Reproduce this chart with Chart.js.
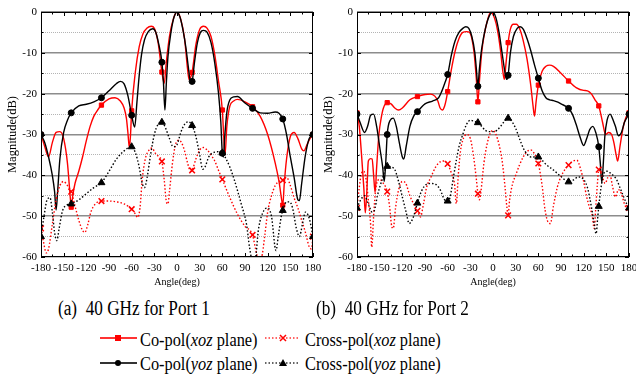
<!DOCTYPE html>
<html>
<head>
<meta charset="utf-8">
<script src="https://cdn.jsdelivr.net/npm/chart.js@4.4.1/dist/chart.umd.min.js"></script>
<style>
  html, body { margin: 0; padding: 0; background: #fff; width: 636px; height: 379px; overflow: hidden; position: relative; }
  canvas.plot { position: absolute; top: 0; }
  #port1 { left: 0; }
  #port2 { left: 316px; }
  .cap, .lg { position: absolute; font-family: "Liberation Serif", "Times New Roman", serif; color: #000;
              white-space: nowrap; transform-origin: 0 0; transform: scaleX(0.86); }
  .cap { font-size: 20px; line-height: 20px; top: 298px; }
  .lg { font-size: 19px; line-height: 19px; }
  #key { position: absolute; left: 0; top: 320px; }
</style>
</head>
<body>
<canvas id="port1" class="plot" width="330" height="297"></canvas>
<canvas id="port2" class="plot" width="330" height="297"></canvas>

<div class="cap" style="left:58px">(a)&nbsp; 40 GHz for Port 1</div>
<div class="cap" style="left:316px">(b)&nbsp; 40 GHz for Port 2</div>

<svg id="key" width="636" height="59">
  <line x1="100" y1="18" x2="137" y2="18" stroke="#f33" stroke-width="2"/>
  <rect x="115" y="15" width="6" height="6" fill="#f00"/>
  <line x1="265" y1="18" x2="300" y2="18" stroke="#f33" stroke-width="1.5" stroke-dasharray="1.5 2"/>
  <path d="M280 15 L286 21 M286 15 L280 21" stroke="#f00" stroke-width="1.5"/>
  <line x1="100" y1="43" x2="137" y2="43" stroke="#333" stroke-width="2"/>
  <circle cx="118" cy="43" r="3" fill="#000"/>
  <line x1="265" y1="43" x2="300" y2="43" stroke="#333" stroke-width="1.5" stroke-dasharray="1.5 2"/>
  <path d="M283 39 L287 46 L279 46 Z" fill="#000"/>
</svg>
<div class="lg" style="left:140px;top:330px">Co-pol(<i>xoz</i> plane)</div>
<div class="lg" style="left:305px;top:330px">Cross-pol(<i>xoz</i> plane)</div>
<div class="lg" style="left:140px;top:354px">Co-pol(<i>yoz</i> plane)</div>
<div class="lg" style="left:305px;top:354px">Cross-pol(<i>yoz</i> plane)</div>

<script>
// [angle (deg), magnitude (dB)] samples for each cut

// Port 1
const p1CoXoz = [[-180,-30],[-175,-33],[-170,-35.5],[-165,-32],[-160,-29.5],[-155,-29.3],[-150,-31],[-145,-37],
  [-141,-46],[-140,-47.8],[-138,-45],[-135,-42],[-130,-39],[-125,-35.5],[-120,-31.5],[-115,-28],[-110,-25.5],
  [-105,-24],[-100,-22.8],[-90,-21.3],[-82,-21],[-75,-21.8],[-70,-23.5],[-67,-26],[-65,-29.5],[-63,-33.3],
  [-61.5,-30],[-60,-24.2],[-55,-14.5],[-50,-8.5],[-45,-5.3],[-40,-4],[-34,-3.5],[-30,-4],[-25,-7.5],[-20,-14.7],
  [-17,-17.5],[-14,-12],[-10,-6],[-5,-1.8],[0,0],[5,-1.8],[10,-6.5],[14,-14],[16,-16.6],[18,-16],[20,-14.8],
  [25,-8],[30,-4.3],[35,-3.5],[40,-4],[45,-6],[50,-10.5],[55,-17],[60,-24],[62,-31],[63.5,-35],[66,-28],
  [70,-23],[75,-21.8],[80,-21.4],[90,-22],[100,-23.2],[110,-25.5],[120,-30],[130,-37],[135,-41.5],[139,-46.5],
  [140,-47.3],[142,-42],[145,-36],[150,-30.5],[155,-29.5],[160,-31],[165,-33.5],[168,-34],[172,-32.5],
  [176,-31],[180,-30]];

const p1CoYoz = [[-180,-30],[-175,-32],[-170,-35.5],[-165,-40],[-162,-44],[-160,-48.5],[-158,-44],[-155,-36],
  [-150,-29.5],[-145,-26.5],[-140,-24.7],[-130,-23],[-120,-22.6],[-110,-22],[-100,-21],[-90,-19.3],[-80,-17.5],
  [-75,-17],[-70,-17.6],[-65,-20.5],[-60,-25.3],[-56,-28.2],[-53,-22],[-50,-15.5],[-47,-10.5],[-43,-6.8],
  [-38,-4.8],[-32,-4.1],[-28,-5],[-24,-8],[-20,-12.3],[-18,-17],[-16,-24],[-14,-17],[-12,-11],[-8,-5],
  [-4,-1.3],[0,0],[4,-1.3],[8,-4.5],[12,-9],[15,-13.5],[18,-17.2],[20,-17],[23,-12.5],[27,-7.5],[31,-5],
  [35,-4.5],[40,-5],[45,-7.5],[50,-12.5],[55,-20],[58,-27],[60,-34.6],[61.5,-35.5],[63,-31],[66,-24.5],
  [70,-21.5],[75,-20.8],[80,-20.7],[90,-22.3],[100,-23.6],[110,-24.7],[120,-24.8],[130,-24.5],[135,-24.8],
  [140,-26.2],[145,-30],[150,-35.5],[155,-40.5],[160,-46],[162,-46.2],[165,-42],[170,-35],[175,-31],[180,-30]];

const p1CrossXoz = [[-180,-53],[-177,-56],[-173,-59],[-170,-58],[-165,-52],[-160,-46],[-155,-42.5],[-150,-41.5],
  [-145,-42.5],[-140,-44],[-135,-47.5],[-130,-51],[-125,-53.5],[-122,-54],[-118,-52],[-114,-49],[-108,-47],
  [-100,-46.3],[-90,-46.3],[-80,-46.5],[-70,-47],[-60,-48.3],[-55,-49.5],[-52,-50.3],[-49,-48],[-46,-41],
  [-42,-36],[-37,-33.8],[-33,-33.3],[-29,-34.5],[-24,-35.5],[-20,-36.6],[-17,-41],[-14,-46.5],[-12,-47],
  [-10,-44],[-6,-37],[-2,-32.5],[2,-31.4],[6,-32],[10,-34],[14,-37],[18,-39],[20,-38.8],[25,-36],[30,-33.8],
  [35,-33.2],[40,-33.8],[45,-35],[50,-36.5],[55,-38.8],[60,-41],[70,-45.5],[80,-49.5],[90,-52.5],[100,-54.6],
  [104,-58],[108,-60.5],[112,-60],[116,-55],[120,-49],[125,-45],[130,-42.5],[135,-41.5],[140,-41.2],
  [145,-40.5],[150,-42.5],[155,-45.5],[160,-48],[165,-51],[170,-54],[175,-57.5],[178,-58],[180,-55]];

const p1CrossYoz = [[-180,-55],[-176,-50],[-172,-46],[-168,-45.5],[-165,-49],[-162,-54],[-159,-56],[-156,-53],
  [-152,-49],[-148,-47.5],[-140,-47],[-130,-46],[-120,-44.5],[-110,-43],[-100,-41.8],[-90,-39],[-80,-36],
  [-70,-34],[-60,-33],[-55,-34.5],[-50,-38],[-46,-42],[-43,-43],[-40,-41],[-35,-35],[-30,-30],[-25,-27.5],
  [-20,-27],[-15,-28.5],[-10,-31],[-5,-33],[0,-32.5],[5,-29.5],[10,-27.5],[15,-26.9],[20,-27.8],[25,-30.5],
  [30,-35],[34,-38.5],[37,-38],[42,-35.5],[50,-34.3],[55,-34.2],[60,-34.5],[65,-36],[70,-38],[76,-41.2],
  [85,-47],[92,-52],[96,-57.6],[100,-61],[103,-61],[108,-53],[115,-48.6],[120,-48],[125,-50],[131,-58.4],
  [134,-55],[138,-50],[140,-48.6],[145,-46.5],[149,-46.5],[153,-48],[158,-53],[162,-55],[166,-52],
  [170,-49],[175,-50.5],[180,-55]];

// Port 2
const p2CoXoz = [[-180,-24.7],[-177,-28],[-174,-35],[-171,-43],[-169,-49.2],[-167,-44],[-165,-36.5],[-162,-35.9],
  [-160,-36],[-158,-40],[-156,-44.2],[-154,-38],[-151,-30],[-148,-26],[-145,-23.5],[-140,-22.2],[-135,-22.5],
  [-130,-23.5],[-125,-24],[-120,-23.5],[-110,-21.5],[-100,-20.7],[-90,-20.2],[-83,-20.1],[-77,-20.6],
  [-73,-21.8],[-70,-23.5],[-67,-24],[-64,-23],[-62,-21.5],[-60,-19.5],[-55,-14],[-50,-9.5],[-45,-6.5],
  [-40,-5],[-35,-4.8],[-31,-5],[-28,-6.5],[-25,-10],[-22,-16.5],[-20,-22],[-18,-17],[-15,-10],[-12,-6],
  [-8,-2.5],[-3,0],[2,-1.5],[6,-4.5],[10,-9.5],[13,-14.5],[15,-16.5],[17,-13],[20,-7.5],[23,-4.2],[27,-3],
  [31,-3],[35,-4],[40,-7],[45,-11.5],[50,-18],[53,-23],[55,-25.5],[57,-22],[60,-17.9],[65,-14.5],[70,-13.3],
  [75,-13],[80,-13.3],[90,-15],[100,-16.9],[110,-18.5],[120,-19.2],[125,-19.3],[130,-20],[135,-21.5],
  [140,-23],[145,-27],[149,-30],[153,-29.5],[157,-30],[160,-32],[163,-35],[165,-36.5],[168,-33],[172,-28.5],
  [176,-25.8],[180,-24.7]];

const p2CoYoz = [[-180,-25],[-176,-27],[-170,-29.5],[-166,-28],[-162,-25.3],[-158,-25],[-154,-28],[-150,-33],
  [-146,-38],[-144,-41.5],[-142,-37],[-140,-30],[-136,-26.5],[-132,-26],[-128,-28],[-124,-32],[-120,-35.5],
  [-118,-36],[-115,-33],[-110,-28],[-105,-25.5],[-100,-24.4],[-90,-22.5],[-80,-21.8],[-72,-21],[-68,-19.5],
  [-64,-17.5],[-60,-15.3],[-55,-10.5],[-50,-7],[-45,-5],[-40,-4],[-36,-3.6],[-32,-4],[-28,-6],[-24,-10],
  [-22,-14],[-20,-18.2],[-18,-14],[-15,-9],[-10,-4],[-5,-1],[0,0],[4,-1.5],[8,-5],[12,-10],[16,-15],
  [18,-16.5],[20,-15.5],[23,-10],[27,-6],[32,-4],[36,-3.6],[40,-4.2],[45,-6.5],[50,-9.5],[55,-13],[60,-16.2],
  [65,-19.3],[70,-21],[75,-21.5],[80,-21.7],[85,-22],[90,-22.5],[100,-23.6],[105,-25],[110,-27.5],
  [115,-30.5],[120,-32.7],[124,-31],[128,-28.8],[132,-28],[136,-29.5],[140,-33],[142,-37],[144,-41.8],
  [146,-37],[148,-30.5],[151,-26.5],[155,-25],[158,-26],[162,-28],[166,-30.3],[170,-29.5],[174,-27],[180,-25]];

const p2CrossXoz = [[-180,-48],[-177,-43],[-174,-39.5],[-171,-39],[-168,-41],[-165,-46],[-162,-52],
  [-160.5,-57.6],[-158,-50],[-155,-43],[-150,-41],[-145,-42],[-140,-44],[-137,-47.5],[-134,-52.5],
  [-132,-53],[-129,-48],[-125,-43.6],[-120,-41.5],[-116,-41.8],[-110,-45],[-105,-47],[-100,-48.7],
  [-96,-50.2],[-92,-47],[-88,-43],[-82,-40.4],[-76,-38],[-70,-36.7],[-65,-36.5],[-60,-37.2],[-55,-39.5],
  [-51,-42],[-48.5,-46.9],[-46,-40],[-43,-34],[-40,-31.4],[-35,-30],[-30,-31],[-26,-35],[-22,-41],
  [-20,-44.5],[-18,-46],[-16,-44],[-12,-37],[-8,-32.5],[-4,-29.8],[0,-29],[4,-30],[8,-32.5],[12,-36.3],
  [16,-43],[18.5,-48],[20,-49.8],[22,-46],[26,-42],[30,-40],[35,-37.5],[40,-35.5],[45,-34.2],[50,-33.8],
  [55,-34.8],[60,-37.1],[65,-42.5],[69,-48.6],[73,-51.5],[76,-51.8],[80,-47.5],[85,-43],[90,-40.3],
  [100,-37.5],[106,-36.5],[111,-36.3],[116,-38.5],[120,-41.5],[124,-45.3],[128,-48],[131,-49.5],[134,-53],
  [136,-48],[138,-42.5],[140,-38.6],[144,-40],[148.5,-42],[152,-40.5],[155,-40],[158,-42.5],[162,-45.3],
  [166,-43.5],[170,-44.5],[175,-47.5],[180,-48]];

const p2CrossYoz = [[-180,-48],[-175,-46],[-170,-45],[-165,-47],[-160,-49],[-157,-48.6],[-153,-45],
  [-147,-41.2],[-140,-37.8],[-131,-38.3],[-125,-41.5],[-120,-45.3],[-115,-49],[-111,-51.8],[-106,-50.5],
  [-100,-46.8],[-95,-44],[-88,-42.2],[-82,-42],[-76,-42.2],[-70,-43.5],[-64,-46],[-60,-46.3],[-57,-45.5],
  [-52,-40],[-45,-33],[-40,-30],[-35,-27.5],[-30,-26.5],[-25,-26.8],[-20,-27.1],[-15,-28],[-10,-29],
  [-5,-29.3],[0,-29.3],[5,-29],[10,-28],[15,-26.8],[20,-26],[25,-26.8],[30,-28.5],[35,-31],[40,-33.3],
  [45,-34.8],[50,-35.5],[55,-35.5],[60,-35.5],[65,-36.3],[70,-37.3],[80,-38.7],[90,-40.3],[100,-41.6],
  [106,-41.2],[113,-40.4],[120,-41],[125,-43],[128,-45.5],[131,-48.5],[134,-52],[136.5,-54.3],[138.5,-50.5],
  [140,-47.6],[143,-43],[146.5,-39.6],[151,-39],[155,-39.4],[160,-40.2],[164,-41.2],[168,-43],[173,-45.3],
  [177,-47],[180,-48]];

const angleTicks = [-180, -150, -120, -90, -60, -30, 0, 30, 60, 90, 120, 150, 180];
const serif = '"Liberation Serif", "Times New Roman", serif';

// markers sit every 40 degrees starting from -180
const onMarker = c => c.raw && Math.abs((c.raw.x + 180) % 40) < 1e-6;

function series(points, color, dotted, pointStyle, r) {
  return {
    data: points.map(([x, y]) => ({ x, y })),
    borderColor: color,
    borderWidth: 1.4,
    borderDash: dotted ? [1.5, 2] : [],
    cubicInterpolationMode: 'monotone',
    fill: false,
    pointStyle,
    pointRadius: c => onMarker(c) ? r : 0,
    pointBackgroundColor: color,
    pointBorderColor: color,
    pointBorderWidth: pointStyle === 'crossRot' ? 1.5 : 1
  };
}

// black box with inward ticks on all four sides
const framePlugin = {
  id: 'frame',
  afterDatasetsDraw(chart) {
    const { ctx, chartArea: a, scales: { x, y } } = chart;
    ctx.save();
    ctx.strokeStyle = '#000';
    ctx.lineWidth = 1;
    ctx.strokeRect(a.left + 0.5, a.top + 0.5, a.right - a.left - 1, a.bottom - a.top - 1);
    ctx.beginPath();
    for (let d = -180; d <= 180; d += 15) {
      const px = Math.round(x.getPixelForValue(d)) + 0.5;
      const len = d % 30 === 0 ? 4 : 2.5;
      ctx.moveTo(px, a.top); ctx.lineTo(px, a.top + len);
      ctx.moveTo(px, a.bottom); ctx.lineTo(px, a.bottom - len);
    }
    for (let v = -60; v <= 0; v += 5) {
      const py = Math.round(y.getPixelForValue(v)) + 0.5;
      const len = v % 10 === 0 ? 4 : 2.5;
      ctx.moveTo(a.left, py); ctx.lineTo(a.left + len, py);
      ctx.moveTo(a.right, py); ctx.lineTo(a.right - len, py);
    }
    ctx.stroke();
    ctx.restore();
  }
};

function pattern(id, coXoz, coYoz, crossXoz, crossYoz) {
  new Chart(document.getElementById(id), {
    type: 'line',
    data: {
      datasets: [
        series(crossYoz, '#000', true, 'triangle', 4),
        series(crossXoz, '#f00', true, 'crossRot', 4),
        series(coYoz, '#000', false, 'circle', 3),
        series(coXoz, '#f00', false, 'rect', 3)
      ]
    },
    options: {
      responsive: false,
      animation: false,
      devicePixelRatio: 1,
      events: [],
      layout: { padding: { top: 12, right: 17, left: 0, bottom: 0 } },
      plugins: { legend: { display: false }, tooltip: { enabled: false } },
      scales: {
        x: {
          type: 'linear', min: -180, max: 180,
          afterBuildTicks: s => { s.ticks = angleTicks.map(v => ({ value: v })); },
          grid: { display: false, drawTicks: false },
          border: { display: false },
          ticks: { color: '#000', padding: 5, autoSkip: false, maxRotation: 0, font: { family: serif, size: 11 } },
          title: { display: true, text: 'Angle(deg)', color: '#000', font: { family: serif, size: 10 }, padding: { top: 0, bottom: 9 } },
          afterFit: s => { s.height = 40; }
        },
        y: {
          min: -60, max: 0,
          grid: {
            drawTicks: false,
            color: c => c.tick.value % 10 === 0 ? '#8c8c8c' : '#b4b4b4',
            lineWidth: c => c.tick.value % 10 === 0 ? 1.6 : 1
          },
          border: { display: false, dash: c => (c.tick && c.tick.value % 10 !== 0) ? [1, 1] : [] },
          ticks: {
            stepSize: 5, maxTicksLimit: 20, color: '#000', padding: 4,
            font: { family: serif, size: 11 },
            callback: v => v % 10 === 0 ? v : ''
          },
          title: { display: true, text: 'Magnitude(dB)', color: '#000', font: { family: serif, size: 12.5 }, padding: { top: 5.5, bottom: 0 } },
          afterFit: s => { s.width = 41; }
        }
      }
    },
    plugins: [framePlugin]
  });
}

pattern('port1', p1CoXoz, p1CoYoz, p1CrossXoz, p1CrossYoz);
pattern('port2', p2CoXoz, p2CoYoz, p2CrossXoz, p2CrossYoz);
</script>
</body>
</html>
